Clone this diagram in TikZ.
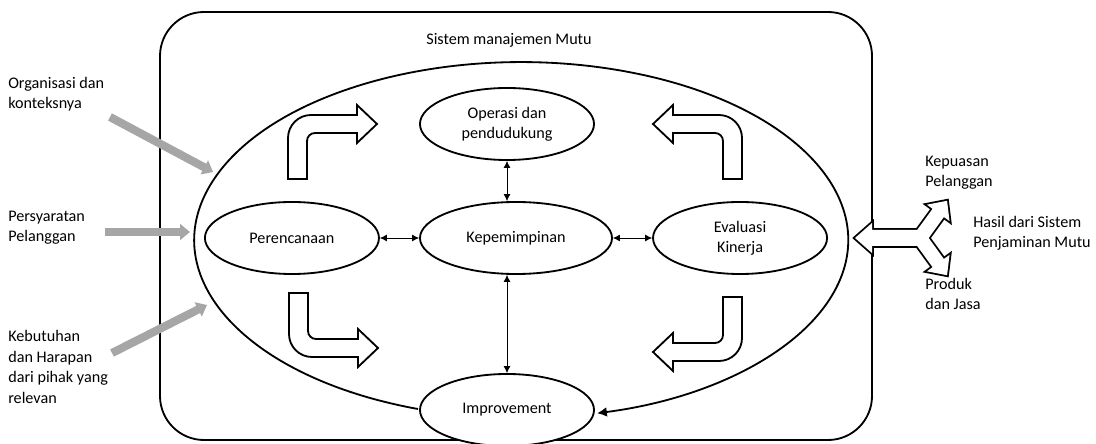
\documentclass[tikz,border=0pt]{standalone}
\usepackage{fontspec}
\setmainfont{Carlito}
\usetikzlibrary{arrows.meta,shapes.geometric}

% hollow bent arrow, origin at the free end of its shaft
\newcommand{\bendarrow}[1]{%
  \begin{scope}[#1]
    \draw[blockarrow] (0,0) -- (0,-41) arc[start angle=180, end angle=270, radius=23] -- (69,-64) -- (69,-74) -- (89,-55) -- (69,-36) -- (69,-46) -- (27,-46) arc[start angle=270, end angle=180, radius=8] -- (19,0) -- cycle;
  \end{scope}}

\begin{document}
\begin{tikzpicture}[x=0.025cm, y=-0.025cm, font=\fontsize{11.5}{14.5}\selectfont]
    % Define styles
    \tikzstyle{proc} = [ellipse, draw, line width=1.3pt, fill=white, minimum width=4.35cm, minimum height=1.8cm, inner sep=0pt, align=center]
    \tikzstyle{link} = [draw, {Latex[length=5pt,width=5pt]}-{Latex[length=5pt,width=5pt]}, line width=0.6pt]
    \tikzstyle{inflow} = [draw, -{Triangle[length=7pt,width=11pt]}, line width=5.8pt, gray!70]
    \tikzstyle{note} = [align=left, anchor=west, inner sep=0pt]
    \tikzstyle{blockarrow} = [draw, fill=white, line width=1.3pt]

    \useasboundingbox (0,0) rectangle (1096,444);

    % Frame
    \draw[line width=1.3pt, rounded corners=1.1cm] (160,12) rectangle (872,440);
    \node (title) at (509,40) {Sistem manajemen Mutu};

    % Place nodes
    \node [proc, minimum width=4.8cm] (kep) at (516,238) {Kepemimpinan};
    \node [proc, left of=kep, node distance=5.6cm] (perencanaan) {Perencanaan};
    \node [proc, right of=kep, node distance=5.6cm] (evaluasi) {Evaluasi\\Kinerja};
    \node [proc] (operasi) at (507,124) {Operasi dan\\pendudukung};
    \node [proc] (improvement) at (507,410) {Improvement};

    % Big loop
    \coordinate (loopstart) at (418,409);
    \draw[line width=1.3pt, -{Latex[length=7pt,width=7pt]}] (loopstart) arc[start angle=108.4, end angle=436.6, x radius=327, y radius=178];

    % Draw edges
    \path [link] (perencanaan) -- (kep);
    \path [link] (kep) -- (evaluasi);
    \path [link] (operasi.south) -- (operasi.south |- kep.north);
    \path [link] (improvement.north) -- (improvement.north |- kep.south);

    % Bent arrows
    \bendarrow{shift={(288,179)}}
    \bendarrow{shift={(742,179)}, xscale=-1}
    \bendarrow{shift={(289,293)}, yscale=-1}
    \bendarrow{shift={(742,297)}, xscale=-1, yscale=-1}

    % Inputs
    \node[note] (organisasi) at (8,94) {Organisasi dan\\konteksnya};
    \node[note] (persyaratan) at (8,228) {Persyaratan\\Pelanggan};
    \node[note] (kebutuhan) at (8,367) {Kebutuhan\\dan Harapan\\dari pihak yang\\relevan};
    \coordinate (org-a) at (110,117);
    \coordinate (org-b) at (213,172);
    \coordinate (per-a) at (105,232);
    \coordinate (per-b) at (190,232);
    \coordinate (keb-a) at (112,353);
    \coordinate (keb-b) at (207,305);
    \draw[inflow] (org-a) -- (org-b);
    \draw[inflow] (per-a) -- (per-b);
    \draw[inflow] (keb-a) -- (keb-b);

    % Outputs
    \path[preaction={draw, line width=2.6pt}, fill=white]
      (855,238) -- (872,223) -- (872,230) -- (926,230) -- (926,246) -- (872,246) -- (872,253) -- cycle
      {[shift={(920,238)}, rotate=54] (0,-7) -- (31,-7) -- (31,-14) -- (46,0) -- (31,14) -- (31,7) -- (0,7) -- cycle}
      {[shift={(920,238)}, rotate=-54] (0,-7) -- (31,-7) -- (31,-14) -- (46,0) -- (31,14) -- (31,7) -- (0,7) -- cycle};
    \node[note] (kepuasan) at (925,173) {Kepuasan\\Pelanggan};
    \node[note] (hasil) at (973,233) {Hasil dari Sistem\\Penjaminan Mutu};
    \node[note] (produk) at (925,294) {Produk\\dan Jasa};
\end{tikzpicture}
\end{document}
